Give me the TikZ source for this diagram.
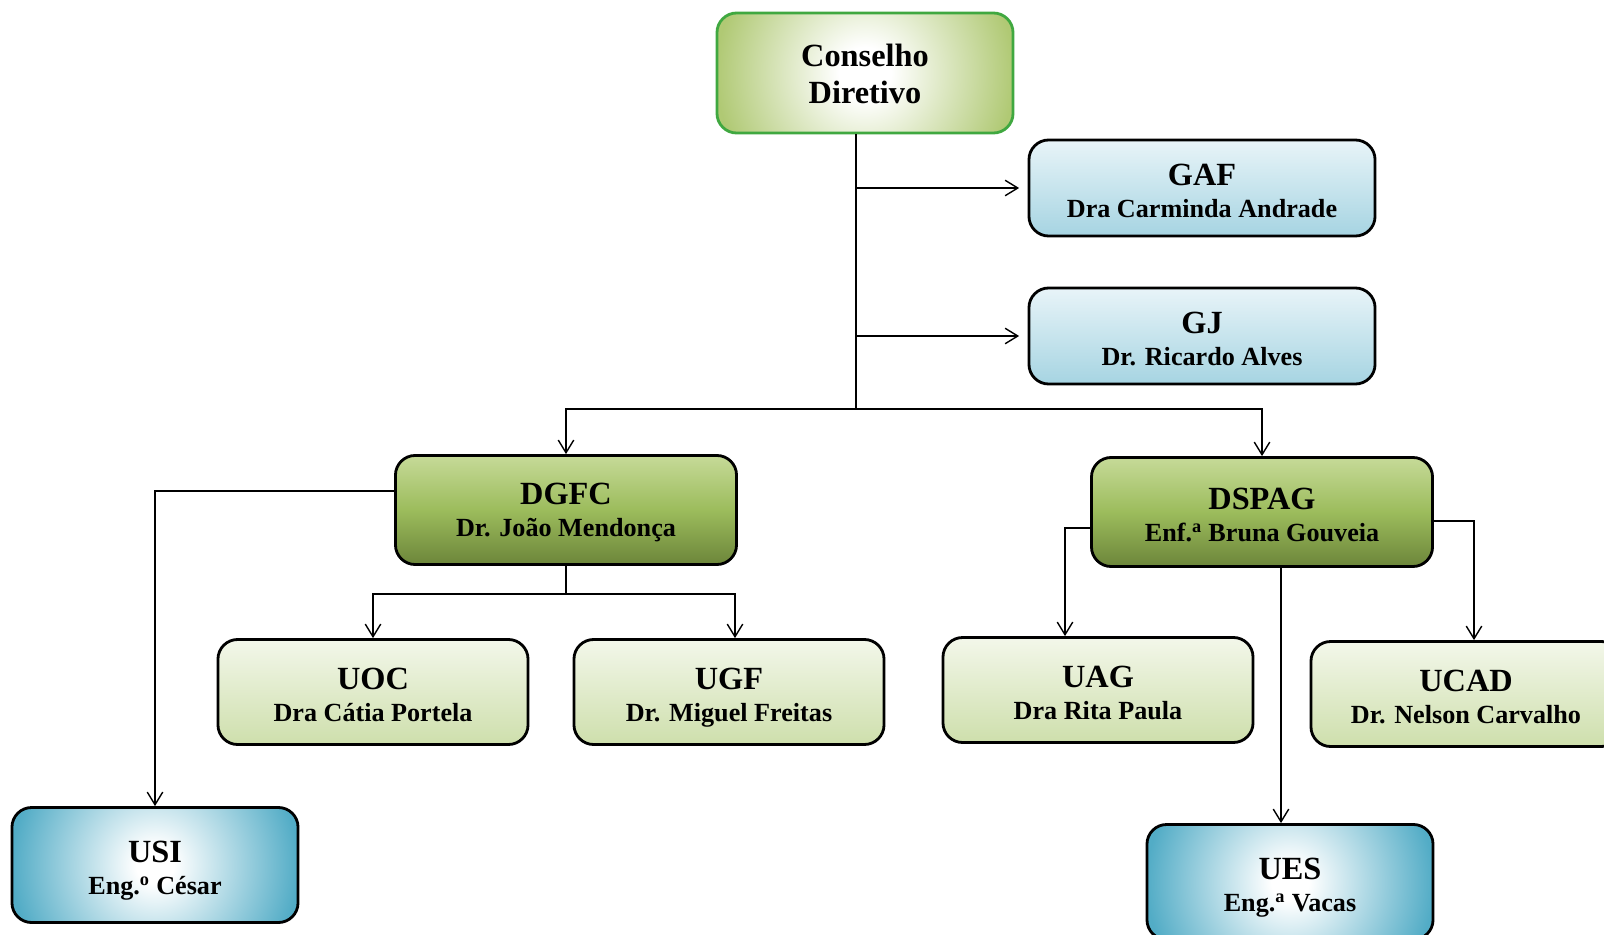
\documentclass[tikz,border=0pt]{standalone}
\usepackage{fontspec}
\setmainfont{Liberation Serif}
\usetikzlibrary{positioning,arrows.meta,calc}
\definecolor{cdedge}{RGB}{64,168,64}
\definecolor{cdfill}{RGB}{176,201,116}
\definecolor{glowblue}{RGB}{82,172,198}
\definecolor{gtop}{RGB}{232,244,248}
\definecolor{gbot}{RGB}{166,212,226}
\definecolor{dtop}{RGB}{198,218,152}
\definecolor{dmid}{RGB}{156,188,92}
\definecolor{dbot}{RGB}{108,134,58}
\definecolor{utop}{RGB}{243,247,234}
\definecolor{ubot}{RGB}{206,223,172}
\pgfdeclareradialshading{greenglow}{\pgfpoint{0bp}{0bp}}{color(0bp)=(white); color(4bp)=(white); color(23bp)=(cdfill); color(50bp)=(cdfill)}
\pgfdeclareradialshading{blueglow}{\pgfpoint{0bp}{0bp}}{color(0bp)=(white); color(3bp)=(white); color(23bp)=(glowblue); color(50bp)=(glowblue)}
\newcommand{\unithead}[1]{{\fontsize{23}{23}\selectfont #1}}
\tikzset{
  flowarrow/.style={-{Straight Barb[length=9pt,width=11pt]}, line width=1pt},
  flowline/.style={line width=1pt},
  basebox/.style={draw, rounded corners=14pt, line width=2pt, inner sep=0pt, align=center, text height=42pt, text depth=0pt, font=\bfseries\fontsize{18.6}{22.7}\selectfont},
  topbox/.style={basebox, draw=cdedge, fill=cdfill, minimum width=7.4cm, minimum height=3cm, text height=43pt, font=\bfseries\fontsize{23}{26}\selectfont, path picture={\shade[shading=greenglow] (path picture bounding box.center) circle[radius=4.05cm];}},
  staffbox/.style={basebox, top color=gtop, bottom color=gbot, minimum width=8.65cm, minimum height=2.4cm},
  dirbox/.style={basebox, top color=dtop, bottom color=dbot, middle color=dmid, minimum width=8.525cm, minimum height=2.725cm},
  unitbox/.style={basebox, top color=utop, bottom color=ubot, minimum width=7.75cm, minimum height=2.625cm},
  glowbox/.style={basebox, fill=glowblue, minimum width=7.15cm, minimum height=2.875cm, path picture={\shade[shading=blueglow] (path picture bounding box.center) circle[radius=3.9cm];}}
}
\begin{document}
\begin{tikzpicture}[x=0.025cm, y=-0.025cm]
  \path[use as bounding box] (0,0) rectangle (1604,934);
  \clip (0,0) rectangle (1604,934);
  \node[topbox] (cd) at (865,73) {Conselho\\Diretivo};
  \node[staffbox] (gaf) at (1202,188) {\unithead{GAF}\\Dra Carminda Andrade};
  \node[staffbox] (gj) at (1202,336) {\unithead{GJ}\\Dr. Ricardo Alves};
  \node[dirbox, text height=37pt] (dgfc) at (566,510) {\unithead{DGFC}\\Dr. João Mendonça};
  \node[dirbox] (dspag) at (1262,512) {\unithead{DSPAG}\\Enf.\textsuperscript{a} Bruna Gouveia};
  \node[unitbox] (uoc) at (373,692) {\unithead{UOC}\\Dra Cátia Portela};
  \node[unitbox] (ugf) at (729,692) {\unithead{UGF}\\Dr. Miguel Freitas};
  \node[unitbox] (uag) at (1098,690) {\unithead{UAG}\\Dra Rita Paula};
  \node[unitbox] (ucad) at (1466,694) {\unithead{UCAD}\\Dr. Nelson Carvalho};
  \node[glowbox] (usi) at (155,865) {\unithead{USI}\\Eng.\textsuperscript{o} César};
  \node[glowbox] (ues) at (1290,882) {\unithead{UES}\\Eng.\textsuperscript{a} Vacas};
  \coordinate (trunk) at (856,409);
  \coordinate (split) at (566,594);
  \draw[flowline] (cd.south -| trunk) -- (trunk);
  \draw[flowarrow, shorten >=6pt] (trunk |- gaf.west) -- (gaf.west);
  \draw[flowarrow, shorten >=6pt] (trunk |- gj.west) -- (gj.west);
  \draw[flowarrow] (trunk) -| (dgfc.north);
  \draw[flowarrow] (trunk) -| (dspag.north);
  \draw[flowarrow] ($(dgfc.west)+(0,-19)$) -| (usi.north);
  \draw[flowline] (dgfc.south) -- (split);
  \draw[flowarrow] (split) -| (uoc.north);
  \draw[flowarrow] (split) -| ($(ugf.north)+(6,0)$);
  \draw[flowarrow] ($(dspag.west)+(0,16)$) -| ($(uag.north)+(-33,0)$);
  \draw[flowarrow] ($(dspag.east)+(0,9)$) -| ($(ucad.north)+(8,0)$);
  \draw[flowarrow] ($(dspag.south)+(19,0)$) -- ($(ues.north)+(-9,0)$);
\end{tikzpicture}
\end{document}
